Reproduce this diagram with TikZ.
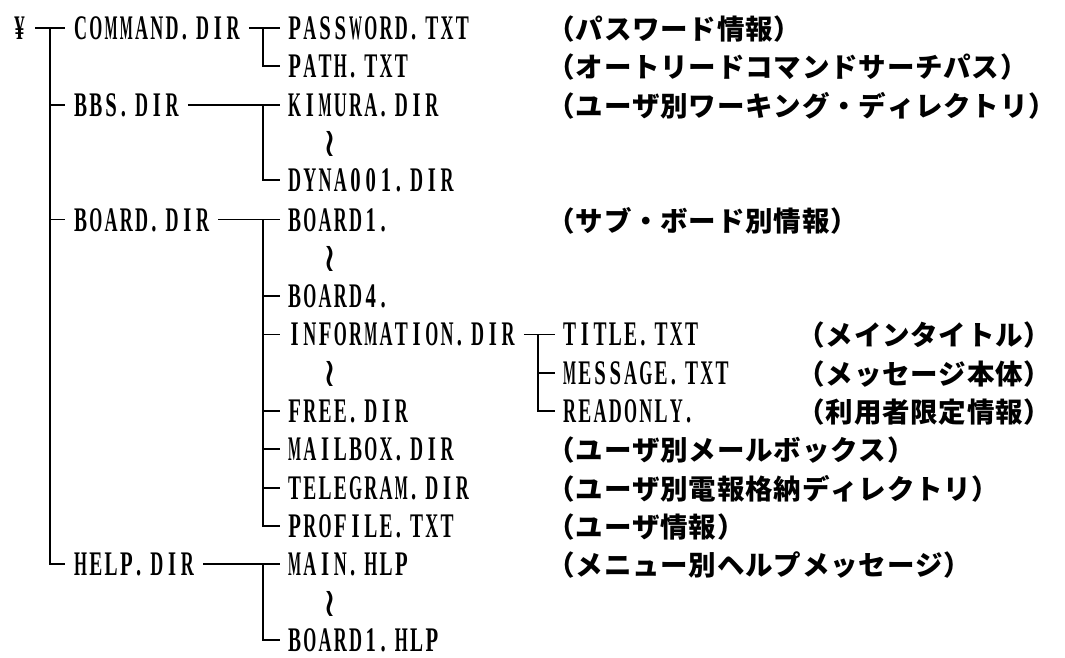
\documentclass[tikz,border=0pt]{standalone}
\usepackage{graphicx}
\usepackage{fontspec}
\newfontfamily\latf[FakeStretch=0.6]{Liberation Serif}
\newfontfamily\jpf{Noto Sans CJK JP}
\newfontfamily\symf{DejaVu Sans}
\newsavebox\hwcellbox
\makeatletter
\newcommand\hw[1]{\hw@#1\@nil}
\def\hw@#1{\ifx#1\@nil\else\hw@cell{#1}\expandafter\hw@\fi}
\def\hw@cell#1{\ifx.#1\makebox[15.25pt][l]{\hspace{2pt}.}\else
  \sbox\hwcellbox{#1}%
  \ifdim\wd\hwcellbox>13pt
    \makebox[15.25pt][c]{\resizebox{13pt}{\height}{#1}}%
  \else
    \makebox[15.25pt][c]{\usebox\hwcellbox}%
  \fi\fi}
\newcommand\fw[1]{\fw@#1\@nil}
\def\fw@#1{\ifx#1\@nil\else\makebox[28.3pt][c]{#1}\expandafter\fw@\fi}
\makeatother
\tikzset{
  base/.style={inner sep=0pt, outer sep=0pt, anchor=west, text height=23pt, text depth=0pt},
  lat/.style={base, font=\latf\bfseries\fontsize{34.5}{35}\selectfont},
  jp/.style={base, font=\jpf\bfseries\fontsize{27.5}{28}\selectfont},
  wav/.style={inner sep=0pt, anchor=center, font=\symf\fontsize{40}{40}\selectfont},
  conn/.style={draw=black, line width=1.8pt}
}
\begin{document}
\begin{tikzpicture}[x=1pt,y=-1pt]
\useasboundingbox (0,0) rectangle (1065,657);
\fill[white] (0,0) rectangle (1065,657);
% root
\node[lat] (root) at (12,28) {\hw{¥}};
% level 1
\node[lat] (cmd) at (73,28) {\hw{COMMAND.DIR}};
\node[lat] (bbs) at (73,104.6) {\hw{BBS.DIR}};
\node[lat] (board) at (73,219.5) {\hw{BOARD.DIR}};
\node[lat] (help) at (73,564.2) {\hw{HELP.DIR}};
% command children
\node[lat] (pw) at (287,28) {\hw{PASSWORD.TXT}};
\node[jp] (pwc) at (547,28) {\fw{（パスワード情報）}};
\node[lat] (path) at (287,66.3) {\hw{PATH.TXT}};
\node[jp] (pathc) at (547,66.3) {\fw{（オートリードコマンドサーチパス）}};
% bbs children
\node[lat] (kim) at (287,104.6) {\hw{KIMURA.DIR}};
\node[jp] (kimc) at (547,104.6) {\fw{（ユーザ別ワーキング・ディレクトリ）}};
\node[wav] (w1) at (330,144) {≀};
\node[lat] (dyna) at (287,180) {\hw{DYNA001.DIR}};
% board children
\node[lat] (b1) at (287,219.5) {\hw{BOARD1.}};
\node[jp] (b1c) at (547,219.5) {\fw{（サブ・ボード別情報）}};
\node[wav] (w2) at (330,258.8) {≀};
\node[lat] (b4) at (287,296.1) {\hw{BOARD4.}};
\node[lat] (info) at (287,334.4) {\hw{INFORMATION.DIR}};
\node[wav] (w3) at (330,373.7) {≀};
\node[lat] (free) at (287,411) {\hw{FREE.DIR}};
\node[lat] (mail) at (287,449.3) {\hw{MAILBOX.DIR}};
\node[jp] (mailc) at (547,449.3) {\fw{（ユーザ別メールボックス）}};
\node[lat] (tel) at (287,487.6) {\hw{TELEGRAM.DIR}};
\node[jp] (telc) at (547,487.6) {\fw{（ユーザ別電報格納ディレクトリ）}};
\node[lat] (prof) at (287,525.9) {\hw{PROFILE.TXT}};
\node[jp] (profc) at (547,525.9) {\fw{（ユーザ情報）}};
% information children
\node[lat] (title) at (562,334.4) {\hw{TITLE.TXT}};
\node[jp] (titlec) at (797,334.4) {\fw{（メインタイトル）}};
\node[lat] (msg) at (562,372.7) {\hw{MESSAGE.TXT}};
\node[jp] (msgc) at (797,372.7) {\fw{（メッセージ本体）}};
\node[lat] (ro) at (562,411) {\hw{READONLY.}};
\node[jp] (roc) at (797,411) {\fw{（利用者限定情報）}};
% help children
\node[lat] (main) at (287,564.2) {\hw{MAIN.HLP}};
\node[jp] (mainc) at (547,564.2) {\fw{（メニュー別ヘルプメッセージ）}};
\node[wav] (w4) at (330,603.5) {≀};
\node[lat] (bh) at (287,640) {\hw{BOARD1.HLP}};
% connectors: root
\draw[conn] ([xshift=8pt]root.east) -- ([xshift=-8pt]cmd.west);
\draw[conn] ([xshift=-23pt]cmd.west) |- ([xshift=-8pt]help.west);
\draw[conn] ([xshift=-23pt]bbs.west) -- ([xshift=-8pt]bbs.west);
\draw[conn] ([xshift=-23pt]board.west) -- ([xshift=-8pt]board.west);
% command
\draw[conn] ([xshift=8pt]cmd.east) -- ([xshift=-7pt]pw.west);
\draw[conn] ([xshift=-24pt]pw.west) |- ([xshift=-7pt]path.west);
% bbs
\draw[conn] ([xshift=8pt]bbs.east) -- ([xshift=-7pt]kim.west);
\draw[conn] ([xshift=-24pt]kim.west) |- ([xshift=-7pt]dyna.west);
% board
\draw[conn] ([xshift=8pt]board.east) -- ([xshift=-7pt]b1.west);
\draw[conn] ([xshift=-24pt]b1.west) |- ([xshift=-7pt]prof.west);
\foreach \n in {b4,info,free,mail,tel}
  \draw[conn] ([xshift=-24pt]\n.west) -- ([xshift=-7pt]\n.west);
% information
\draw[conn] ([xshift=8pt]info.east) -- ([xshift=-7pt]title.west);
\draw[conn] ([xshift=-24pt]title.west) |- ([xshift=-7pt]ro.west);
\draw[conn] ([xshift=-24pt]msg.west) -- ([xshift=-7pt]msg.west);
% help
\draw[conn] ([xshift=8pt]help.east) -- ([xshift=-7pt]main.west);
\draw[conn] ([xshift=-24pt]main.west) |- ([xshift=-7pt]bh.west);
\end{tikzpicture}
\end{document}
